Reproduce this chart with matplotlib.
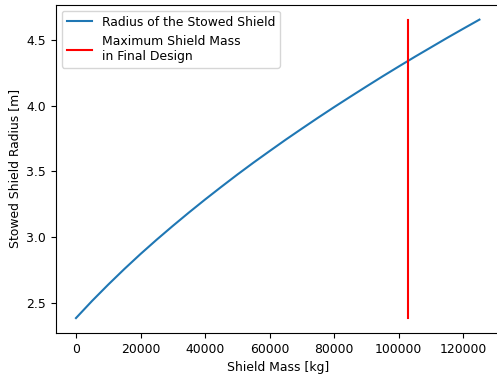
import matplotlib.pyplot as plt

# shield mass [kg] and stowed radius [m]
shield_mass = [0, 5000, 10000, 15000, 20000, 25000, 30000, 35000, 40000,
               45000, 50000, 55000, 60000, 65000, 70000, 75000, 80000,
               85000, 90000, 95000, 100000, 105000, 110000, 115000,
               120000, 125000]
stowed_radius = [2.383, 2.514, 2.638, 2.757, 2.871, 2.980, 3.085, 3.187,
                 3.286, 3.382, 3.476, 3.567, 3.655, 3.742, 3.826, 3.909,
                 3.990, 4.069, 4.147, 4.224, 4.299, 4.373, 4.445, 4.517,
                 4.587, 4.656]

# mass limit of the final design
max_mass = 103000

plt.rcParams['font.size'] = 8.9

fig = plt.figure(figsize=(4.97, 3.78), dpi=100)
ax = fig.add_axes([55.8 / 497, 1 - 333 / 378, (499.6 - 55.8) / 497, (333 - 4.7) / 378])

ax.plot(shield_mass, stowed_radius, label='Radius of the Stowed Shield')
ax.plot([max_mass, max_mass], [min(stowed_radius), max(stowed_radius)],
        color='red', label='Maximum Shield Mass\nin Final Design')

ax.set_xlabel('Shield Mass [kg]')
ax.set_ylabel('Stowed Shield Radius [m]')
ax.legend(loc='upper left')

fig.savefig('out.png', dpi=100)
